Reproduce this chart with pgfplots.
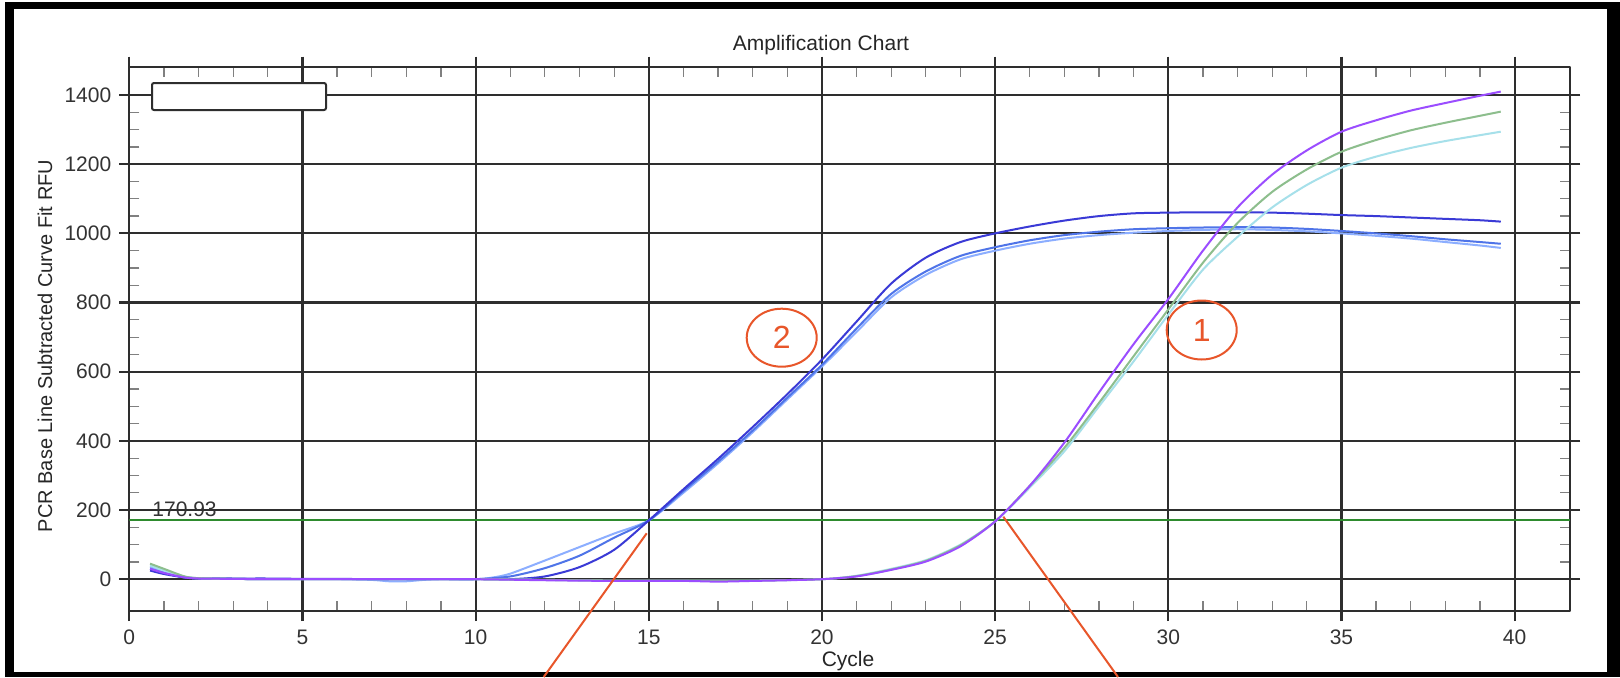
\documentclass[border=0pt]{standalone}
\usepackage{fontspec}
\setmainfont{Liberation Sans}
\usepackage{pgfplots}
\pgfplotsset{compat=1.18}
\definecolor{gridc}{HTML}{2E2E2E}
\definecolor{dblue}{HTML}{3A3AD6}
\definecolor{mblue}{HTML}{4F74E8}
\definecolor{lblue}{HTML}{8CAEFF}
\definecolor{purp}{HTML}{9B4DFF}
\definecolor{sgreen}{HTML}{8DBE8D}
\definecolor{lcyan}{HTML}{A6E0EA}
\definecolor{thr}{HTML}{2E8B2E}
\definecolor{orng}{HTML}{E8562A}
\begin{document}
\begin{tikzpicture}
\useasboundingbox (0,0) rectangle (810pt,338.5pt);
\fill[black] (2.5pt,0) rectangle (810pt,337.5pt);
\fill[white] (7pt,2.5pt) rectangle (803.5pt,334pt);
\begin{axis}[
  at={(64.65pt,33pt)}, anchor=south west,
  scale only axis, width=720.35pt, height=272.15pt,
  xmin=0, xmax=41.6, ymin=-92, ymax=1482,
  xtick={0,5,...,40}, ytick={0,200,...,1400},
  minor x tick num=4, minor y tick num=3,
  grid=major,
  major grid style={line width=1.1pt, color=gridc},
  axis line style={line width=1.1pt, color=gridc},
  tick align=outside,
  major tick length=5pt,
  minor tick length=-5pt,
  major tick style={line width=1.1pt, color=gridc},
  minor tick style={line width=0.6pt, color=gray},
  ticklabel style={font=\fontsize{10.5}{12}\selectfont, text=black!80},
  /pgf/number format/assume math mode=true,
  /pgf/number format/1000 sep={},
  xticklabel style={yshift=-1pt},
  yticklabel style={xshift=-0.5pt},
  line join=round,
  every axis plot/.append style={line width=1pt, smooth, tension=0.45},
]
% threshold
\addplot[thr, line width=1pt, sharp plot] coordinates {(0,170.93) (41.6,170.93)};
% group 2 (blue)
\addplot[lblue] coordinates {(0.6,35) (1.0,20) (1.6,6) (2,3) (3,1) (4,0) (5,0) (6,0) (7,-2) (7.5,-6) (8,-6) (8.5,-2) (9,0) (10,0) (10.5,5) (11,16) (12,54) (13,93) (14,132) (15,170) (16,250) (17,335) (18,425) (19,520) (20,615) (21,715) (22,815) (23,880) (24,925) (25,950) (26,970) (27,985) (28,995) (29,1002) (30,1007) (31,1010) (32,1012) (33,1010) (34,1006) (35,1000) (36,993) (37,985) (38,975) (39,965) (39.6,958)};
\addplot[mblue] coordinates {(0.6,30) (1.0,18) (1.6,5) (2,2) (3,1) (4,0) (5,0) (6,0) (7,0) (8,0) (9,0) (10,0) (11,8) (12,32) (13,68) (14,120) (15,170) (16,255) (17,340) (18,430) (19,525) (20,620) (21,725) (22,825) (23,890) (24,935) (25,960) (26,980) (27,995) (28,1005) (29,1012) (30,1015) (31,1017) (32,1018) (33,1017) (34,1013) (35,1007) (36,1000) (37,992) (38,983) (39,975) (39.6,970)};
\addplot[dblue] coordinates {(0.6,25) (1.0,15) (1.6,5) (2,3) (3,2) (4,2) (5,1) (6,1) (7,0) (8,0) (9,0) (10,0) (11,0) (12,8) (13,35) (14,85) (15,170) (16,260) (17,348) (18,440) (19,535) (20,635) (21,745) (22,855) (23,930) (24,975) (25,1000) (26,1020) (27,1037) (28,1050) (29,1058) (30,1060) (31,1061) (32,1061) (33,1060) (34,1057) (35,1053) (36,1050) (37,1046) (38,1042) (39,1038) (39.6,1034)};
% group 1
\addplot[lcyan] coordinates {(0.6,40) (1.0,25) (1.6,7) (2,3) (3,1) (4,0) (6,0) (8,0) (10,0) (12,-2) (14,-4) (16,-4) (18,-4) (20,0) (21,10) (22,30) (23,55) (24,100) (25,167) (26,265) (27,370) (28,500) (29,630) (30,765) (31,895) (32,990) (33,1075) (34,1140) (35,1190) (36,1222) (37,1247) (38,1267) (39,1284) (39.6,1294)};
\addplot[sgreen] coordinates {(0.6,45) (1.0,30) (1.6,8) (2,3) (3,1) (4,0) (6,0) (8,0) (10,0) (12,-2) (14,-4) (16,-4) (18,-4) (20,0) (21,9) (22,28) (23,53) (24,98) (25,167) (26,270) (27,380) (28,510) (29,645) (30,780) (31,915) (32,1030) (33,1120) (34,1185) (35,1236) (36,1270) (37,1298) (38,1320) (39,1340) (39.6,1352)};
\addplot[purp] coordinates {(0.6,30) (1.0,18) (1.6,5) (2,2) (3,1) (4,0) (6,0) (8,0) (10,0) (12,-3) (14,-5) (16,-5) (17,-7) (18,-5) (19,-3) (20,0) (21,8) (22,27) (23,51) (24,95) (25,167) (26,270) (27,395) (28,540) (29,680) (30,810) (31,950) (32,1075) (33,1170) (34,1240) (35,1294) (36,1327) (37,1355) (38,1377) (39,1398) (39.6,1410)};
\end{axis}
% legend box
\draw[fill=white, draw=gridc, line width=1pt, rounded corners=1pt] (76pt,283.5pt) rectangle (163pt,297pt);
% threshold label
\node[anchor=west, font=\fontsize{10.5}{12}\selectfont, text=black!80, inner sep=0pt] at (76pt,84pt) {170.93};
% title and labels
\node[font=\fontsize{10.5}{12}\selectfont, text=black!85] at (410.5pt,316pt) {Amplification Chart};
\node[font=\fontsize{10.5}{12}\selectfont, text=black!85] at (424pt,8pt) {Cycle};
\node[font=\fontsize{10}{12}\selectfont, text=black!85, rotate=90] at (22.5pt,165.5pt) {PCR Base Line Subtracted Curve Fit RFU};
% annotations
\draw[orng, line width=1pt] (323.35pt,71.85pt) -- (271.85pt,0pt);
\draw[orng, line width=1pt] (501.65pt,80.15pt) -- (559pt,0pt);
\draw[orng, line width=1pt] (390.85pt,169.65pt) ellipse [x radius=17.5pt, y radius=14.5pt];
\node[orng, font=\fontsize{16}{18}\selectfont] at (390.85pt,169.65pt) {2};
\draw[orng, line width=1pt] (600.85pt,173.5pt) ellipse [x radius=17.5pt, y radius=14.75pt];
\node[orng, font=\fontsize{16}{18}\selectfont] at (600.85pt,173.5pt) {1};
\end{tikzpicture}
\end{document}
